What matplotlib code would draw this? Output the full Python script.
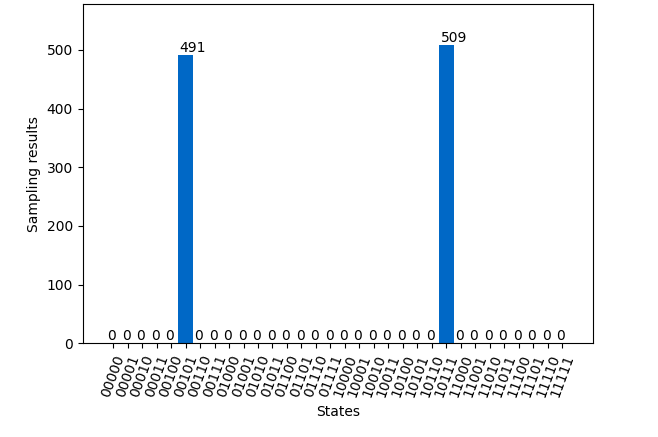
import matplotlib
matplotlib.use('Agg')
import matplotlib.pyplot as plt

states = [format(i, '05b') for i in range(32)]
counts = [0] * 32
counts[5] = 491
counts[23] = 509

fig = plt.figure(figsize=(6.58, 4.37), dpi=100)
ax = fig.add_axes([0.1257, 0.2144, 0.775, 0.7764])
ax.bar(states, counts, width=1.0, color='#0068c6')
for i, v in enumerate(counts):
    ax.text(i - 0.4, v, str(v), ha='left', va='bottom')
ax.set_ylim(0, 578)
ax.set_xlabel('States')
ax.set_ylabel('Sampling results')
plt.setp(ax.get_xticklabels(), rotation=70)
fig.savefig('out.png', dpi=100)
